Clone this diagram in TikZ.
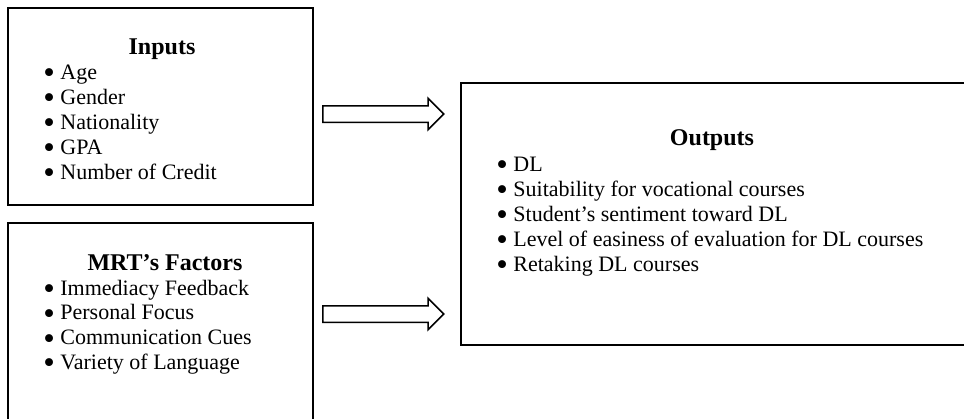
\documentclass[tikz,border=0pt]{standalone}
\usepackage{fontspec}
\setmainfont{Liberation Serif}
\usetikzlibrary{shapes.arrows}
\tikzset{
  panel/.style={draw, line width=1.1pt, inner sep=0pt},
  heading/.style={font=\fontsize{12}{14}\selectfont\bfseries, anchor=base, inner sep=0pt},
  item/.style={font=\fontsize{11}{12.5}\selectfont, anchor=base west, inner sep=0pt},
  flow/.style={single arrow, draw, line width=0.75pt, minimum height=60.5pt,
    inner xsep=0pt, inner ysep=3.75pt, single arrow head extend=3.75pt,
    single arrow tip angle=90, anchor=tail}
}
\newcommand{\pnt}[1]{\makebox[8.5pt][l]{\smash{\raisebox{-2.2pt}{\scalebox{1.5}{\textbullet}}}}#1}
\begin{document}
\begin{tikzpicture}[x=0.5pt,y=-0.5pt]
\clip (0,0) rectangle (964,418);
% boxes
\node[panel, minimum width=152.5pt, minimum height=98.5pt] (inbox) at (160.5,106.5) {};
\node[panel, minimum width=152.5pt, minimum height=108.5pt] (mrtbox) at (160.5,331.5) {};
\node[panel, minimum width=259.5pt, minimum height=131pt] (outbox) at (720.5,214) {};
% inputs
\node[heading] (inhead) at (162,54) {Inputs};
\foreach \t [count=\i] in {Age,Gender,Nationality,GPA,Number of Credit}
  \node[item] (in\i) at (43,54+25*\i) {\pnt{\t}};
% MRT factors
\node[heading] (mrthead) at (165,270) {MRT’s Factors};
\foreach \t [count=\i] in {Immediacy Feedback,Personal Focus,Communication Cues,Variety of Language}
  \node[item] (mrt\i) at (43,270.5+24.7*\i) {\pnt{\t}};
% outputs
\node[heading] (outhead) at (712,145) {Outputs};
\foreach \t [count=\i] in {DL,Suitability for vocational courses,Student’s sentiment toward DL,Level of easiness of evaluation for DL courses,Retaking DL courses}
  \node[item] (out\i) at (496,146+25*\i) {\pnt{\t}};
% arrows
\node[flow] (arr1) at (322,114) {};
\node[flow] (arr2) at (322,314) {};
\end{tikzpicture}
\end{document}
